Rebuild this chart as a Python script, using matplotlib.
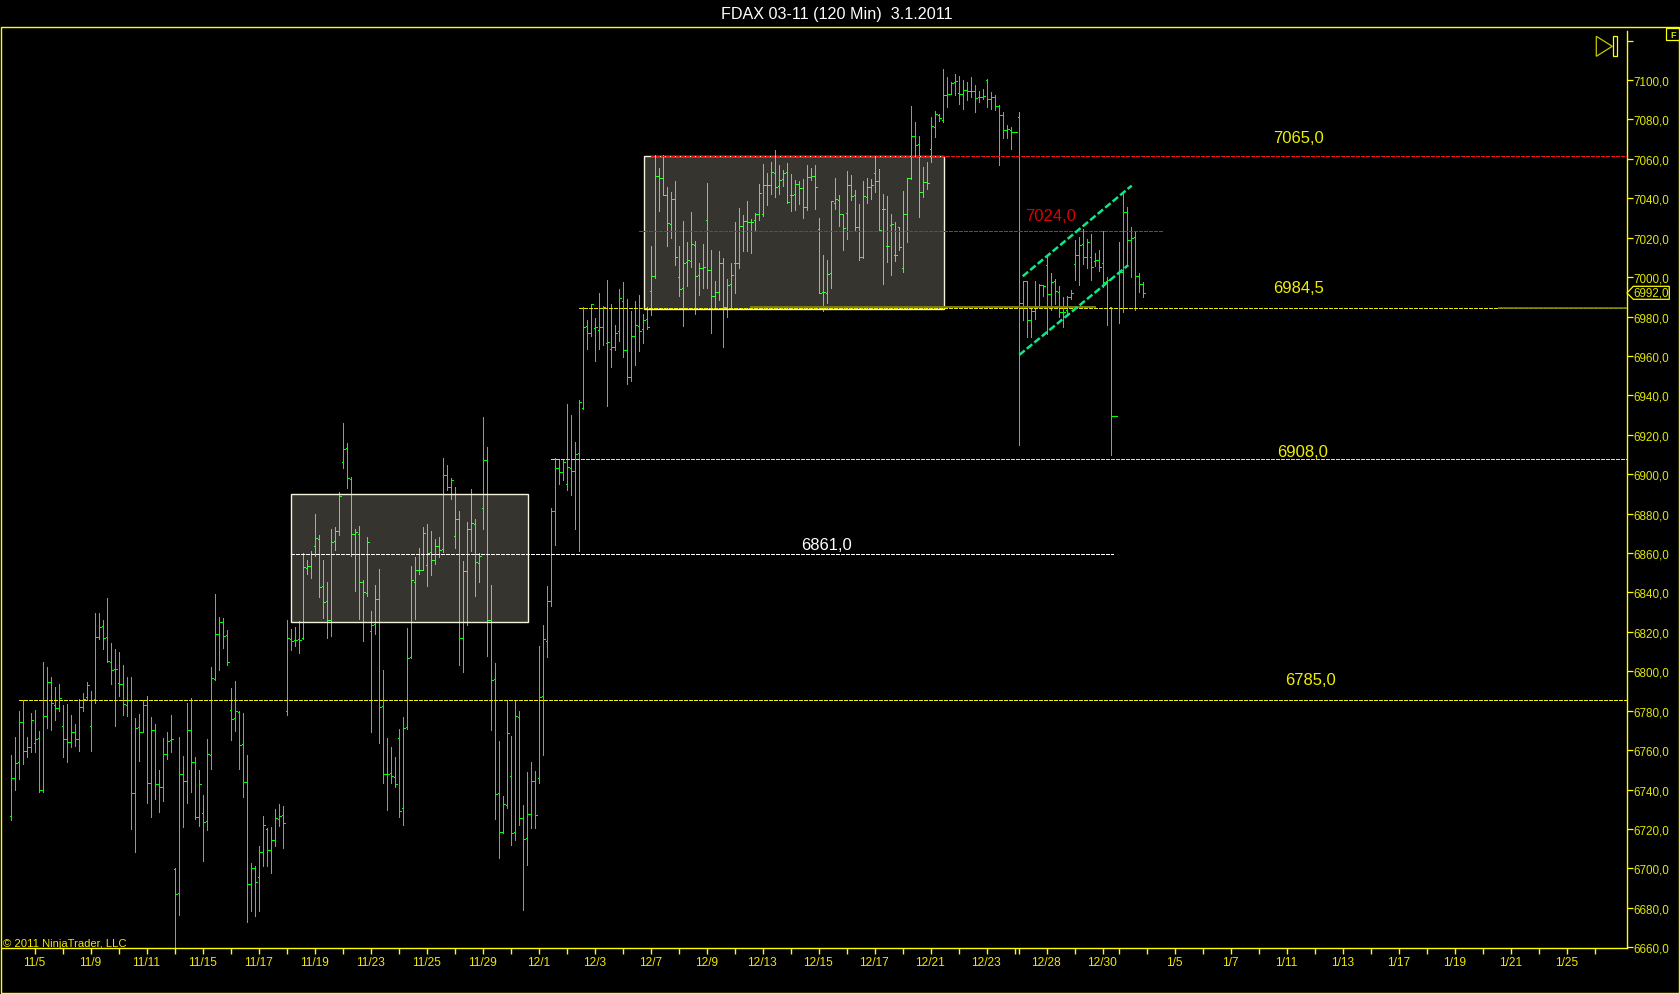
import matplotlib
matplotlib.use('Agg')
import matplotlib.pyplot as plt
from matplotlib.patches import Rectangle, Polygon

plt.rcParams['font.family'] = ['Liberation Sans', 'DejaVu Sans']

# Barras de 120 min (high, low, open, close)
highs = [
    6757.6,6766.5,6779.9,6785.3,6766.5,6778.9,6780.4,6769.8,6804.6,6802.1,
    6797.2,6792.1,6793.6,6783.1,6783.5,6778,6773,6786,6789,6794.5,
    6790.1,6829.6,6829.6,6825.9,6837.2,6814.2,6811.2,6809.7,6803.2,6797,
    6797,6776.2,6778.2,6785.2,6787.3,6776.7,6773.3,6749.8,6766.2,6769.1,
    6777.9,6700.1,6766.5,6757.1,6783.8,6786.5,6756.4,6749.8,6737.3,6765.7,
    6802.1,6839.3,6827.6,6827.1,6821,6791.6,6795,6780.1,6778.7,6757.6,
    6702.6,6701.1,6711.4,6726.5,6720.4,6721.1,6730.2,6732.7,6731.4,
    6826.1,6821.5,6822.3,6825.4,6860,6856.5,6861.1,6879.8,6869.2,6856.5,
    6845.3,6872.2,6873.2,6891,6926,6915.9,6898.4,6872.2,6873.7,6846.4,6868.2,
    6830.6,6843.8,6851.9,6800.7,6766.2,6761.6,6756.6,6770.8,6776.9,6822,
    6853.5,6858,6862.6,6873.2,6874.8,6871.2,6867.2,6868.2,6908.2,6904.7,
    6898.1,6893.5,6881.4,6856,6875.8,6892.5,6877.3,6860,6929,6913.8,
    6843.8,6804.2,6764.7,6736.8,6785.3,6767.2,6785.3,6779.9,6732.2,6749,
    6754,6749.5,6812.9,6823.5,6843.3,6882.9,
    6908.2,6907.2,6907.2,6935.6,6930,6916.3,6937.6,6984.8,6978.2,6986.3,
    6979.2,6991.9,6985.3,6998.5,6986.3,6975.7,6993.9,6997.5,6988.9,6982.8,
    6987.8,6990.9,6981.2,6984.8,
    7015.8,7062,7055.4,7062,7045.7,7043.2,7048.8,7015.8,7028.5,7017.8,
    7033.1,7018.4,7007.2,7016.8,7047.8,7013.8,6998.1,7013.3,7009.7,6999.1,
    7007.2,7028,7035.1,7031.5,7038.6,7029.5,7032.6,7047.3,7057.4,7052.9,
    7058.4,7064.5,7056.9,7054.4,7057.9,7052.3,7049.3,7048.8,7049.8,7056.9,
    7055.4,7056.9,7030,7011.3,7008.7,7038.6,7050.3,7041.7,7031.9,7053.9,
    7051.8,7044.2,7037.1,7048.8,7050.3,7049.8,7061.5,
    7054.8,7042.2,7041.2,7032,7028,7025.4,7043.7,7050.3,7086.8,7078.7,
    7071.6,7055.9,7058.4,7081,7084.3,7083,7105.5,7101.5,7098.8,7103,
    7101.9,7100,7098.8,7101.5,7097.4,7094.4,7095.4,7100.5,7093.9,7092.4,
    7087.3,7083.6,7077.2,7076,7073.5,7083.8,6998,6997.9,6984.7,6997.9,
    6996.4,6995.7,7010.2,7002,6999,6995.5,6990,6990.4,6993.5,7018.8,
    7020.4,7024.4,7019.4,7021.9,7012.2,7013.8,7023.4,7000,6984.7,6929.4,
    7017.8,7042.2,7035.6,7025.4,7023.4,7002,6997.4,
]
lows = [
    6724.3,6739.8,6745.1,6753,6756.7,6758.8,6758.8,6738.6,6738.5,6771.3,
    6770.4,6775.5,6779.6,6756.7,6754.2,6761.8,6762.3,6759.3,6779.9,6785.3,
    6759.3,6784,6816.4,6811.4,6804.8,6793.6,6772,6787.5,6777.9,6777.4,
    6720,6708.5,6754.7,6769.1,6733.4,6726.3,6735.3,6728.7,6734.4,6755.6,
    6758.9,6659,6676.1,6721.2,6733.4,6738.5,6724.8,6721.7,6703.5,6719.7,
    6750.5,6795.8,6800.4,6811.9,6803.4,6765.2,6769.9,6750.5,6736.4,6673,
    6678.6,6675.6,6678.6,6701.4,6701.4,6697.9,6711.4,6721.4,6710.1,
    6778,6810.8,6812.9,6809.3,6816.4,6849.4,6847.4,6858.5,6837.7,6827.1,
    6816.9,6817.9,6861.6,6869.2,6903.2,6893,6858.5,6840.8,6826.6,6815.4,6838.2,
    6769.2,6819,6763.7,6743.4,6729.7,6743.4,6741.3,6726.1,6722.1,6770.8,
    6806.8,6826.6,6849.4,6851.4,6843.3,6848.9,6854.5,6858,6860.6,6892,
    6887.4,6862.6,6803.2,6799.7,6823.5,6861.1,6838.2,6845.3,6872.2,6807.8,
    6770.3,6725.1,6705.3,6718,6730.7,6711.9,6714.5,6722.1,6678.9,6701.8,
    6720.5,6720.5,6743.4,6757.6,6807.3,6833.2,
    6864.1,6895,6897,6892,6889.4,6872.2,6861,6933.1,6963.5,6970.1,
    6957.4,6963.5,6965.5,6934.6,6954.4,6963,6967.5,6959.4,6945.7,6947.3,
    6955.4,6962.5,6966.5,6973.6,
    6980.8,6999.6,7033.6,7041.5,7015.8,7019.9,7006.2,6990.5,6975.2,6995.5,
    7005.2,6981.3,6991,6994.5,6994.5,6971.7,6984.9,6988.4,6964.6,6979.8,
    6984.4,6992,7004.7,7013.3,7013.3,7012.3,7023.9,7029,7031,7036.6,
    7042.2,7040.7,7042.2,7046.3,7037.6,7033.6,7034.1,7037.1,7030,7034.1,
    7049.3,7034.6,6991.8,6982.8,6986.9,6994.5,7034.6,7026,7013.8,7019.4,
    7039.2,7023.9,7008.7,7009.7,7037.6,7039.7,7043.2,
    7023.6,6996.5,7007.8,7001,7008.3,7013.7,7002.6,7017.8,7050,7061.6,
    7030.5,7040.6,7044.7,7058.6,7071,7079.2,7078.7,7086.3,7092.7,7092.4,
    7088,7085.3,7089.9,7091.4,7083.8,7088.7,7090.4,7086.3,7085.3,7084.8,
    7056.9,7070.6,7070.6,7065,7073.5,6915,6978.3,6969.7,6969.7,6978.8,
    6984.7,6990.4,6971.1,6983.3,6986.4,6979.8,6974.7,6981.8,6988.9,6998.5,
    6996,7006.6,7004.6,6998.5,7005.7,7003.1,6995,6975.7,6909.8,6929.4,
    6976.7,6982.3,7005.8,7000,6983.3,6992.5,6990,
]
opens = [
    6726.5,6745.8,6753.9,6774.2,6759.4,6761.5,6763.7,6766,6739.7,6777.2,
    6794.5,6783.1,6781.3,6772.3,6765.5,6764,6769.1,6765.5,6781.8,6787,
    6772.3,6785.8,6817.6,6822.9,6817.3,6804.6,6801,6794.1,6793.6,6783.1,
    6785.5,6738.1,6771.5,6769.4,6782.8,6743.2,6770.4,6742.7,6741.4,6757.8,
    6764.9,6699.8,6687.4,6748.1,6744.2,6770.1,6754.2,6726.3,6728.2,6723.9,
    6757.6,6796.1,6818.8,6824.9,6818.5,6780.2,6776.2,6779.2,6763,6743.6,
    6692.3,6700.4,6695.5,6708.2,6720.2,6709.2,6714.3,6725.1,6727.1,
    6779.7,6816.4,6815.7,6816.2,6816.8,6852.3,6853.3,6863.4,6867,6843.1,
    6835.5,6825.9,6866,6871,6906,6913.1,6897.4,6869.5,6869.5,6845.2,6839.6,
    6820.3,6823.9,6836.5,6782.3,6747.8,6748.3,6746.2,6766,6730.5,6771.6,
    6807.1,6845.2,6851.3,6851.5,6853.8,6860.4,6856.3,6863.4,6861.9,6899.4,
    6893.4,6868.5,6877.1,6816.8,6850.7,6872.1,6874.6,6854.8,6882.7,6907.1,
    6825.9,6796,6738.1,6718.3,6732,6746.8,6718.3,6776.7,6725.4,6715.3,
    6727.5,6744.2,6745.7,6787.3,6815.2,6835.5,
    6881.1,6903,6900.9,6894.8,6903,6901.4,6910.7,6933.7,6975,6971.4,
    6974,6973,6974.5,6966.4,6963.3,6964.3,6972.5,6987.7,6962.8,6949.1,
    6969.9,6975,6973.5,6978.5,
    6992.8,7000.4,7051.2,7050.1,7041.5,7026.8,7039.5,6999.9,6994.3,7007.5,
    7008,7016.2,7000.9,7004.5,7028.8,7003.5,6990.3,6992.3,7007,6984.7,
    6996.4,7007,7007,7025.8,7028.3,7027.8,7028.8,7031.9,7031.9,7046.6,
    7046.6,7052.7,7046.1,7049.6,7053.2,7041.5,7042,7047.1,7045.1,7035.4,
    7050.7,7051.2,7024.3,6992.3,6991.8,7002,7037.5,7039,7031.9,7032.4,
    7046.6,7041.5,7025.3,7010.1,7040.5,7045.6,7052.7,
    7048.6,7034.4,7015.6,7026.3,7011,7025.2,7004.5,7031.9,7050.1,7071.4,
    7067.4,7043,7048,7064.8,7076,7082,7079.5,7092.2,7092.7,7098.8,
    7093.2,7092.9,7094.8,7094.4,7094.4,7091.4,7091.4,7100,7090.4,7091.4,
    7086.8,7082,7074.5,7074.5,7073.5,7081,6986.7,6997.9,6978,6982.7,
    6985.5,6995.9,7006,6991.3,6997.9,6992.3,6982.1,6983.2,6989.8,7006.5,
    7011,7016.6,7010,7010,7008,7008.5,7007,6997.9,6984.7,6929.4,
    7002.4,7002.4,7032.9,7018.7,7020.2,7000.4,6996.3,
]
closes = [
    6746.1,6753.5,6774.5,6759.4,6761.5,6775.2,6765.7,6739.7,6777.2,6794.5,
    6783.8,6781.3,6786.3,6765.5,6764,6769.1,6765.5,6781.8,6785.7,6793.1,
    6785.5,6817.3,6822.5,6816.9,6805.1,6800.7,6801,6793.3,6783.3,6785.3,
    6738.1,6771.1,6769.4,6782.8,6743.2,6770.1,6742.7,6741.4,6757.9,6764.5,
    6765.7,6687.1,6748.1,6744.2,6770.1,6754.2,6726.3,6742.7,6723.4,6757.9,
    6796.5,6818.8,6824.9,6817.8,6804.6,6775.7,6779.6,6762.7,6743.6,6692,
    6700.1,6693,6708.2,6722.2,6709.4,6714.3,6725.5,6726.5,6723.1,
    6816.8,6815.2,6815.7,6815.7,6852.8,6853.3,6859.5,6867.5,6842.6,6835,
    6826.2,6865.5,6871,6888.8,6912.6,6897.9,6869.5,6870.5,6845.2,6840.1,6865.5,
    6823.4,6836.5,6781.8,6747.8,6747.8,6746.8,6742.7,6729,6771.1,6806.6,
    6846.2,6851.3,6851.3,6870,6859.9,6856.3,6863.4,6861.4,6899.4,6893.4,
    6896.9,6877.1,6816.8,6850.7,6872.1,6875.1,6855.3,6858.4,6907.1,6825.9,
    6795.5,6737.6,6718.3,6732.5,6768.6,6717.8,6777.2,6725.4,6714.8,6727.5,
    6744.2,6727,6786.8,6816.3,6835.5,6881.2,
    6903,6900.9,6906,6903.5,6901.4,6910.1,6936.4,6974.5,6971.4,6986.1,
    6974.5,6974.5,6984.6,6966.9,6964.3,6971.4,6989.2,6962.8,6949.1,6969.9,
    6975.5,6972.8,6978,6974.5,
    7000.4,7051.5,7050.1,7041.5,7027.3,7039.5,7010.1,6993.8,7007,7008.5,
    7016.7,7000.4,7004.5,7005,7003.5,6990.3,6992.3,7007,6984.7,6995.9,
    7000.9,7007,7025.8,7028.3,7027.8,7027.8,7031.9,7042.5,7046.6,7046.6,
    7053.2,7045.6,7049.1,7052.7,7038,7041.5,7047.1,7045.1,7035.4,7050.7,
    7051.2,7045.6,6991.8,6992.3,7001.4,7038.5,7039.5,7031.9,7024.8,7046.6,
    7041,7025.3,7010.1,7041,7045.6,7046.6,7048.6,
    7023.7,7034.4,7015.6,7027,7011,7015.1,7031.9,7050.1,7071.4,7066.9,
    7043,7048,7047.5,7076.5,7082.6,7080.5,7092.2,7092.7,7098.5,7099.7,
    7092.9,7094.8,7094.4,7094.4,7090.9,7091.4,7091.7,7090.4,7091.4,7086.8,
    7082,7074.5,7075,7073.5,7073.5,6986.7,6997.9,6978,6982.7,6984.7,
    6995.9,6995.3,6991.3,6997.3,6992.8,6982.1,6982.1,6989.8,6991.8,7011,
    7016.2,7010,7017.6,7005,7008.5,7005,6997.3,6998.4,6929.4,6929.4,
    7002.4,7032.9,7018.7,7019.7,7000.4,6996.3,6991.8,
]
bar_idx = list(range(len(highs)))

# Eje de tiempo: una marca cada 7 barras
time_ticks = list(range(6, 252, 7)) + [252, 259, 266, 273] + list(range(277, 397, 7))
label_pos = [6, 20, 34, 48, 62, 76, 90, 104, 118, 132, 146, 160, 174, 188, 202, 216, 230, 244,
             259, 273, 291, 305, 319, 333, 347, 361, 375, 389]
label_txt = ['11/5', '11/9', '11/11', '11/15', '11/17', '11/19', '11/23', '11/25', '11/29', '12/1',
             '12/3', '12/7', '12/9', '12/13', '12/15', '12/17', '12/21', '12/23',
             '12/28', '12/30', '1/5', '1/7', '1/11', '1/13', '1/17', '1/19', '1/21', '1/25']
price_ticks = list(range(6660, 7121, 20))

# Niveles dibujados: (precio, barra inicial, barra final, color)
levels = [
    (7061.6, 160, 403.8, '#ff1010'),
    (7023.5, 157, 288, '#f01010'),
    (6984.3, 142, 403.8, '#e8e800'),
    (6907.6, 135, 403.8, '#f0f000'),
    (6859.4, 70, 275.5, '#ffffff'),
    (6785.3, 2, 403.8, '#f0f000'),
]
# Zonas rectangulares: (barra izq, barra der, precio bajo, precio alto)
boxes = [(70, 129.1, 6825.0, 6890.0), (158.1, 233.1, 6983.9, 7061.5)]
# Canal alcista
channel_x = [[252.85, 280.1], [252, 279.25]]
channel_y = [[7000.4, 7046.4], [6960.5, 7006.1]]
# Rotulos: (barra, precio, texto, color)
notes = [
    (321.8, 7070.6, '7065,0', '#f0f000'),
    (259.8, 7031.0, '7024,0', '#e00000'),
    (321.8, 6994.5, '6984,5', '#f0f000'),
    (322.7, 6911.3, '6908,0', '#f0f000'),
    (203.7, 6864.1, '6861,0', '#ffffff'),
    (324.7, 6795.6, '6785,0', '#f0f000'),
]

W, H = 1680, 995
def px(x, y):
    return (x / W, 1 - y / H)

fig = plt.figure(figsize=(W / 100, H / 100), dpi=100, facecolor='black')
ax = fig.add_axes([2 / W, 1 - 949 / H, (1626.7 - 2) / W, (949 - 27) / H], facecolor='black')
ax.set_xlim(-2.325, 403.85)
ax.set_ylim(6659.6, 7127.4)

# Barras OHLC
green = '#00ff00'
ax.vlines(bar_idx, lows, highs, color=green, lw=0.6, zorder=2, antialiased=False)
ax.hlines(opens, [i - 0.45 for i in bar_idx], bar_idx, color=green, lw=0.6, zorder=2, antialiased=False)
ax.hlines(closes, bar_idx, [i + 0.45 for i in bar_idx], color=green, lw=0.6, zorder=2, antialiased=False)

# Rectangulos encima de las barras, semitransparentes
for x0, x1, y0, y1 in boxes:
    ax.add_patch(Rectangle((x0, y0), x1 - x0, y1 - y0, facecolor=(1, 0.98, 0.86, 0.21),
                           edgecolor='#f5f2dc', lw=1.0, zorder=3))

for price, x0, x1, col in levels:
    ax.plot([x0, x1], [price, price], color=col, lw=0.7, ls=(0, (3.5, 1.5)), zorder=4, antialiased=False)
# tramo apagado del nivel 6984,5
ax.plot([185, 271], [6984.6, 6984.6], color='#7d7d10', lw=1.4, zorder=4)
ax.plot([372, 403.8], [6984.5, 6984.5], color='#7d7d10', lw=1.2, zorder=4)

for xs, ys in zip(channel_x, channel_y):
    ax.plot(xs, ys, color='#0ee68c', lw=1.8, ls=(0, (2.8, 1.1)), zorder=5)

for x, y, txt, col in notes:
    ax.text(x, y, txt, color=col, fontsize=12, ha='center', va='center', zorder=6)

for s in ['top', 'left']:
    ax.spines[s].set_visible(False)
for s in ['right', 'bottom']:
    ax.spines[s].set_color('#ffff00')
    ax.spines[s].set_linewidth(1.0)
ax.spines['right'].set_bounds(6659.6, 7124.9)

ax.yaxis.tick_right()
ax.set_yticks(price_ticks)
ax.set_yticklabels([f'{p},0' if p < 7120 else '' for p in price_ticks])
ax.set_xticks(time_ticks)
ax.set_xticklabels([''] * len(time_ticks))
ax.tick_params(axis='y', length=4.6, width=0.9, color='#ffff00', labelcolor='#e0e800', labelsize=8.4, pad=0.5)
ax.tick_params(axis='x', length=4.6, width=1.0, color='#ffff00')
for p, t in zip(label_pos, label_txt):
    ax.annotate(t, (p, 0), xycoords=('data', 'axes fraction'), xytext=(-1, -14), textcoords='offset pixels',
                color='#f0e800', fontsize=8.6, ha='center', va='center')

# Marco y elementos fijos de la ventana
x0, y0 = px(1, 994)
x1, y1 = px(1679, 28)
fig.add_artist(Rectangle((x0, y0), x1 - x0, y1 - y0, fill=False, edgecolor='#ffff00', lw=1.0,
                         transform=fig.transFigure))
fig.text(*px(836.5, 14.5), 'FDAX 03-11 (120 Min)  3.1.2011', color='white', fontsize=11.6, ha='center', va='center')
fig.text(*px(3, 944), '© 2011 NinjaTrader, LLC', color='#f0e800', fontsize=8.1, ha='left', va='center')

# Boton de avance e indicador F
fig.add_artist(Polygon([px(1596.3, 37.3), px(1596.3, 57.3), px(1612.3, 47.3)], closed=True, fill=False,
                       edgecolor='#c8c800', lw=0.9, transform=fig.transFigure))
bx0, by0 = px(1613.3, 57.3)
bx1, by1 = px(1616.7, 37.3)
fig.add_artist(Rectangle((bx0, by0), bx1 - bx0, by1 - by0, fill=False, edgecolor='#ffff00', lw=0.9,
                         transform=fig.transFigure))
fx0, fy0 = px(1666.3, 41.3)
fx1, fy1 = px(1679, 29.3)
fig.add_artist(Rectangle((fx0, fy0), fx1 - fx0, fy1 - fy0, facecolor='black', edgecolor='#ffff00', lw=0.9,
                         transform=fig.transFigure))
fig.text(*px(1672.7, 35.5), 'F', color='#c8e800', fontsize=6.5, fontweight='bold', ha='center', va='center')

# Etiqueta del ultimo precio
fig.add_artist(Polygon([px(1627, 294), px(1633.3, 287.3), px(1669.3, 287.3), px(1669.3, 300.3), px(1633.3, 300.3)],
                       closed=True, facecolor='black', edgecolor='#ffff00', lw=0.9, transform=fig.transFigure))
fig.text(*px(1651.5, 294), '6992,0', color='#e0e800', fontsize=8.4, ha='center', va='center')

fig.savefig('out.png', dpi=100, facecolor='black')
